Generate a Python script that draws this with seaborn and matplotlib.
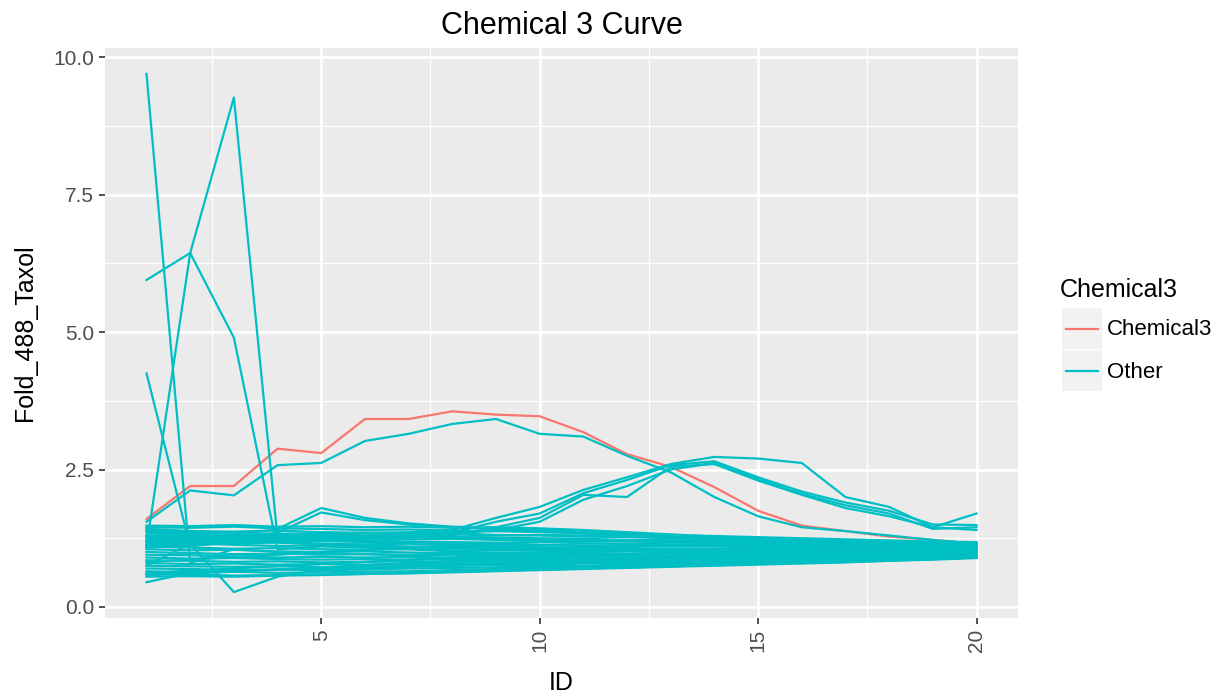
import numpy as np
import pandas as pd
import matplotlib
matplotlib.use('Agg')
import matplotlib.pyplot as plt
from matplotlib.lines import Line2D
from matplotlib.patches import Rectangle
import seaborn as sb

# IDs on the x axis
ids = list(range(1, 21))

# The Chemical3 curve (red)
chem3 = [1.60, 2.20, 2.20, 2.88, 2.80, 3.42, 3.42, 3.56, 3.50, 3.47,
         3.18, 2.78, 2.55, 2.18, 1.75, 1.48, 1.38, 1.28, 1.22, 1.15]

# Curves from "Other" that stand out of the band
twin = [1.55, 2.12, 2.03, 2.58, 2.62, 3.02, 3.15, 3.33, 3.42, 3.15,
        3.10, 2.75, 2.45, 2.00, 1.65, 1.45, 1.38, 1.30, 1.22, 1.15]
spike_a = [9.70, 0.80, 1.05, 1.00, 0.98, 0.96, 0.95, 0.96, 0.95, 0.96,
           0.97, 0.97, 0.98, 0.98, 0.99, 1.00, 1.00, 1.01, 1.02, 1.03]
spike_b = [5.95, 6.44, 4.90, 1.05, 1.10, 1.08, 1.06, 1.07, 1.05, 1.05,
           1.04, 1.04, 1.05, 1.05, 1.06, 1.06, 1.07, 1.07, 1.08, 1.08]
spike_c = [1.10, 6.44, 9.27, 1.25, 1.20, 1.18, 1.16, 1.15, 1.14, 1.13,
           1.12, 1.12, 1.11, 1.11, 1.10, 1.10, 1.10, 1.09, 1.09, 1.09]
spike_d = [4.25, 1.10, 1.20, 1.18, 1.15, 1.12, 1.10, 1.09, 1.08, 1.07,
           1.06, 1.06, 1.05, 1.05, 1.05, 1.04, 1.04, 1.04, 1.04, 1.04]
dip_e = [0.75, 1.15, 0.27, 0.55, 0.68, 0.72, 0.75, 0.77, 0.80, 0.82,
         0.84, 0.86, 0.88, 0.90, 0.91, 0.93, 0.94, 0.95, 0.96, 0.97]
low_f = [0.45, 0.62, 0.66, 0.68, 0.70, 0.71, 0.73, 0.75, 0.77, 0.79,
         0.81, 0.83, 0.85, 0.87, 0.88, 0.90, 0.91, 0.92, 0.94, 0.95]
bump_g = [1.20, 1.25, 1.30, 1.42, 1.80, 1.62, 1.52, 1.46, 1.44, 1.42,
          1.35, 1.30, 1.27, 1.24, 1.22, 1.20, 1.18, 1.17, 1.16, 1.15]
bump_h = [1.10, 1.15, 1.22, 1.35, 1.72, 1.58, 1.50, 1.45, 1.42, 1.38,
          1.34, 1.30, 1.26, 1.23, 1.21, 1.19, 1.17, 1.16, 1.15, 1.14]
rise_1 = [1.30, 1.28, 1.32, 1.30, 1.33, 1.35, 1.36, 1.40, 1.62, 1.82,
          2.13, 2.36, 2.60, 2.73, 2.70, 2.62, 2.00, 1.82, 1.45, 1.70]
rise_2 = [1.22, 1.25, 1.24, 1.27, 1.28, 1.30, 1.32, 1.35, 1.55, 1.70,
          2.07, 2.31, 2.58, 2.65, 2.36, 2.10, 1.90, 1.75, 1.50, 1.49]
rise_3 = [1.18, 1.20, 1.22, 1.21, 1.24, 1.26, 1.28, 1.30, 1.45, 1.62,
          2.04, 2.00, 2.55, 2.60, 2.30, 2.04, 1.80, 1.65, 1.45, 1.40]
rise_4 = [1.26, 1.24, 1.27, 1.25, 1.27, 1.29, 1.31, 1.33, 1.40, 1.55,
          1.95, 2.20, 2.50, 2.62, 2.33, 2.06, 1.85, 1.70, 1.42, 1.45]

# The dense band of "Other" curves, split in a few groups
band_top = [
    [1.45, 1.44, 1.46, 1.43, 1.42, 1.40, 1.41, 1.39, 1.38, 1.36, 1.34, 1.33, 1.31, 1.29, 1.27, 1.25, 1.23, 1.21, 1.19, 1.18],
    [1.40, 1.38, 1.37, 1.39, 1.36, 1.35, 1.33, 1.34, 1.31, 1.30, 1.28, 1.27, 1.25, 1.24, 1.22, 1.20, 1.19, 1.17, 1.16, 1.15],
    [1.35, 1.33, 1.30, 1.32, 1.30, 1.28, 1.29, 1.27, 1.26, 1.25, 1.24, 1.22, 1.21, 1.20, 1.19, 1.18, 1.16, 1.15, 1.14, 1.13],
    [1.30, 1.31, 1.28, 1.26, 1.27, 1.25, 1.23, 1.24, 1.22, 1.21, 1.20, 1.19, 1.18, 1.17, 1.16, 1.15, 1.14, 1.13, 1.12, 1.12],
    [1.25, 1.22, 1.24, 1.21, 1.20, 1.21, 1.19, 1.18, 1.17, 1.18, 1.16, 1.15, 1.14, 1.14, 1.13, 1.12, 1.12, 1.11, 1.10, 1.10],
    [1.48, 1.47, 1.49, 1.46, 1.47, 1.45, 1.46, 1.44, 1.45, 1.43, 1.40, 1.36, 1.32, 1.28, 1.25, 1.22, 1.20, 1.18, 1.17, 1.16],
    [1.42, 1.38, 1.35, 1.33, 1.34, 1.30, 1.28, 1.26, 1.25, 1.23, 1.21, 1.20, 1.18, 1.17, 1.15, 1.14, 1.13, 1.12, 1.11, 1.11],
]
band_mid = [
    [1.20, 1.18, 1.16, 1.17, 1.15, 1.14, 1.15, 1.13, 1.12, 1.12, 1.11, 1.11, 1.10, 1.10, 1.09, 1.09, 1.08, 1.08, 1.07, 1.08],
    [1.15, 1.16, 1.13, 1.11, 1.12, 1.10, 1.09, 1.10, 1.08, 1.08, 1.07, 1.07, 1.06, 1.06, 1.06, 1.05, 1.05, 1.05, 1.04, 1.05],
    [1.10, 1.08, 1.06, 1.07, 1.05, 1.04, 1.05, 1.03, 1.03, 1.02, 1.02, 1.02, 1.01, 1.01, 1.01, 1.01, 1.00, 1.00, 1.00, 1.02],
    [1.05, 1.03, 1.04, 1.01, 1.00, 1.01, 0.99, 0.98, 0.99, 0.98, 0.98, 0.97, 0.98, 0.97, 0.97, 0.98, 0.97, 0.98, 0.98, 1.00],
    [1.00, 0.98, 0.96, 0.97, 0.95, 0.96, 0.94, 0.95, 0.94, 0.94, 0.95, 0.94, 0.94, 0.95, 0.95, 0.95, 0.96, 0.96, 0.97, 0.98],
    [0.95, 0.94, 0.92, 0.90, 0.91, 0.90, 0.91, 0.90, 0.91, 0.92, 0.91, 0.92, 0.92, 0.93, 0.93, 0.94, 0.94, 0.95, 0.95, 0.96],
    [0.90, 0.88, 0.89, 0.87, 0.86, 0.87, 0.86, 0.87, 0.88, 0.87, 0.88, 0.89, 0.89, 0.90, 0.91, 0.91, 0.92, 0.93, 0.93, 0.94],
]
band_low = [
    [0.85, 0.84, 0.82, 0.83, 0.81, 0.82, 0.83, 0.82, 0.84, 0.84, 0.85, 0.86, 0.87, 0.87, 0.88, 0.89, 0.90, 0.91, 0.92, 0.93],
    [0.80, 0.78, 0.79, 0.77, 0.78, 0.77, 0.78, 0.79, 0.80, 0.81, 0.82, 0.83, 0.84, 0.85, 0.86, 0.87, 0.88, 0.89, 0.90, 0.92],
    [0.75, 0.74, 0.73, 0.74, 0.72, 0.73, 0.74, 0.75, 0.76, 0.77, 0.79, 0.80, 0.81, 0.83, 0.84, 0.85, 0.86, 0.88, 0.89, 0.91],
    [0.70, 0.69, 0.67, 0.68, 0.67, 0.68, 0.70, 0.71, 0.72, 0.74, 0.75, 0.77, 0.78, 0.80, 0.81, 0.83, 0.84, 0.86, 0.88, 0.90],
    [0.65, 0.63, 0.64, 0.62, 0.63, 0.64, 0.65, 0.67, 0.69, 0.71, 0.72, 0.74, 0.76, 0.78, 0.80, 0.81, 0.83, 0.85, 0.87, 0.90],
    [0.60, 0.59, 0.57, 0.58, 0.59, 0.60, 0.62, 0.64, 0.66, 0.68, 0.70, 0.72, 0.74, 0.76, 0.78, 0.80, 0.82, 0.84, 0.87, 0.90],
    [0.55, 0.56, 0.55, 0.57, 0.58, 0.60, 0.61, 0.63, 0.65, 0.67, 0.69, 0.71, 0.73, 0.75, 0.77, 0.79, 0.81, 0.84, 0.86, 0.89],
]
band_cross = [
    [1.12, 1.14, 1.17, 1.19, 1.22, 1.24, 1.26, 1.28, 1.30, 1.31, 1.30, 1.28, 1.27, 1.25, 1.23, 1.21, 1.19, 1.17, 1.16, 1.15],
    [0.62, 0.66, 0.70, 0.74, 0.78, 0.82, 0.86, 0.90, 0.94, 0.97, 1.00, 1.02, 1.04, 1.05, 1.06, 1.06, 1.07, 1.07, 1.08, 1.08],
    [1.38, 1.35, 1.31, 1.27, 1.24, 1.20, 1.17, 1.14, 1.11, 1.08, 1.06, 1.04, 1.02, 1.00, 0.99, 0.98, 0.97, 0.96, 0.96, 0.95],
    [0.82, 0.86, 0.91, 0.95, 1.00, 1.04, 1.08, 1.12, 1.15, 1.18, 1.20, 1.21, 1.21, 1.20, 1.19, 1.17, 1.15, 1.13, 1.11, 1.10],
    [1.28, 1.26, 1.22, 1.18, 1.13, 1.09, 1.05, 1.01, 0.98, 0.95, 0.93, 0.92, 0.91, 0.91, 0.91, 0.92, 0.92, 0.93, 0.93, 0.94],
    [0.58, 0.61, 0.64, 0.68, 0.72, 0.76, 0.80, 0.84, 0.87, 0.90, 0.93, 0.95, 0.98, 1.00, 1.02, 1.04, 1.05, 1.06, 1.07, 1.08],
    [1.08, 1.12, 1.16, 1.20, 1.25, 1.29, 1.33, 1.36, 1.38, 1.39, 1.37, 1.34, 1.30, 1.27, 1.24, 1.21, 1.18, 1.16, 1.14, 1.13],
]

red = '#F8766D'
cyan = '#00BFC4'

# Build long table: one row per (curve, ID)
others = [twin, spike_a, spike_b, spike_c, spike_d, dip_e, low_f, bump_g, bump_h,
          rise_1, rise_2, rise_3, rise_4] + band_top + band_mid + band_low + band_cross
rows = []
for i, v in zip(ids, chem3):
    rows.append({'curve': 0, 'ID': i, 'Fold_488_Taxol': v, 'Chemical3': 'Chemical3'})
for k, curve in enumerate(others):
    for i, v in zip(ids, curve):
        rows.append({'curve': k + 1, 'ID': i, 'Fold_488_Taxol': v, 'Chemical3': 'Other'})
data = pd.DataFrame(rows)

fig = plt.figure(figsize=(12.23, 6.98), dpi=100)
W, H = 1223, 698
ax = fig.add_axes([105 / W, 1 - 618 / H, 913 / W, 570 / H])
ax.set_facecolor('#EBEBEB')

sb.lineplot(data=data, x='ID', y='Fold_488_Taxol', hue='Chemical3', units='curve',
            estimator=None, palette={'Chemical3': red, 'Other': cyan},
            hue_order=['Chemical3', 'Other'], linewidth=1.6, legend=False, ax=ax)

ax.margins(x=0.05, y=0.05)
for s in ax.spines.values():
    s.set_visible(False)

ax.set_xticks([5, 10, 15, 20])
ax.set_xticklabels(['5', '10', '15', '20'], rotation=90)
ax.set_xticks([2.5, 7.5, 12.5, 17.5], minor=True)
ax.set_yticks([0, 2.5, 5, 7.5, 10])
ax.set_yticklabels(['0.0', '2.5', '5.0', '7.5', '10.0'])
ax.set_yticks([1.25, 3.75, 6.25, 8.75], minor=True)
ax.tick_params(which='major', length=4, width=1.2, color='#333333',
               labelcolor='#4D4D4D', labelsize=15, pad=4)
ax.tick_params(which='minor', length=0)
for lab in ax.get_xticklabels() + ax.get_yticklabels():
    lab.set_family('Liberation Sans')

ax.grid(which='major', color='white', linewidth=1.8)
ax.grid(which='minor', color='white', linewidth=0.9)
ax.set_axisbelow(True)

ax.set_title('Chemical 3 Curve', fontsize=22, family='Liberation Sans', pad=10)
ax.set_xlabel('ID', fontsize=18, family='Liberation Sans')
ax.set_ylabel('Fold_488_Taxol', fontsize=18, family='Liberation Sans')
ax.xaxis.set_label_coords(0.5, (618 - 683) / 570)
ax.xaxis.label.set_va('center')
ax.yaxis.set_label_coords((25 - 105) / 913, 0.5)
ax.yaxis.label.set_va('center')

# Legend drawn in figure pixels
def fx(x):
    return x / W

def fy(y):
    return 1 - y / H

fig.text(fx(1060), fy(290), 'Chemical3', fontsize=18, family='Liberation Sans',
         ha='left', va='center')
for yy, lab, col in [(308, 'Chemical3', red), (350, 'Other', cyan)]:
    fig.add_artist(Rectangle((fx(1062), fy(yy + 41)), 40 / W, 41 / H,
                             transform=fig.transFigure, color='#F2F2F2', lw=0))
    fig.add_artist(Line2D([fx(1066), fx(1098)], [fy(yy + 21), fy(yy + 21)],
                          transform=fig.transFigure, color=col, lw=1.6))
    fig.text(fx(1107), fy(yy + 22), lab, fontsize=16, family='Liberation Sans',
             ha='left', va='center')

fig.savefig('out.png', dpi=100)
